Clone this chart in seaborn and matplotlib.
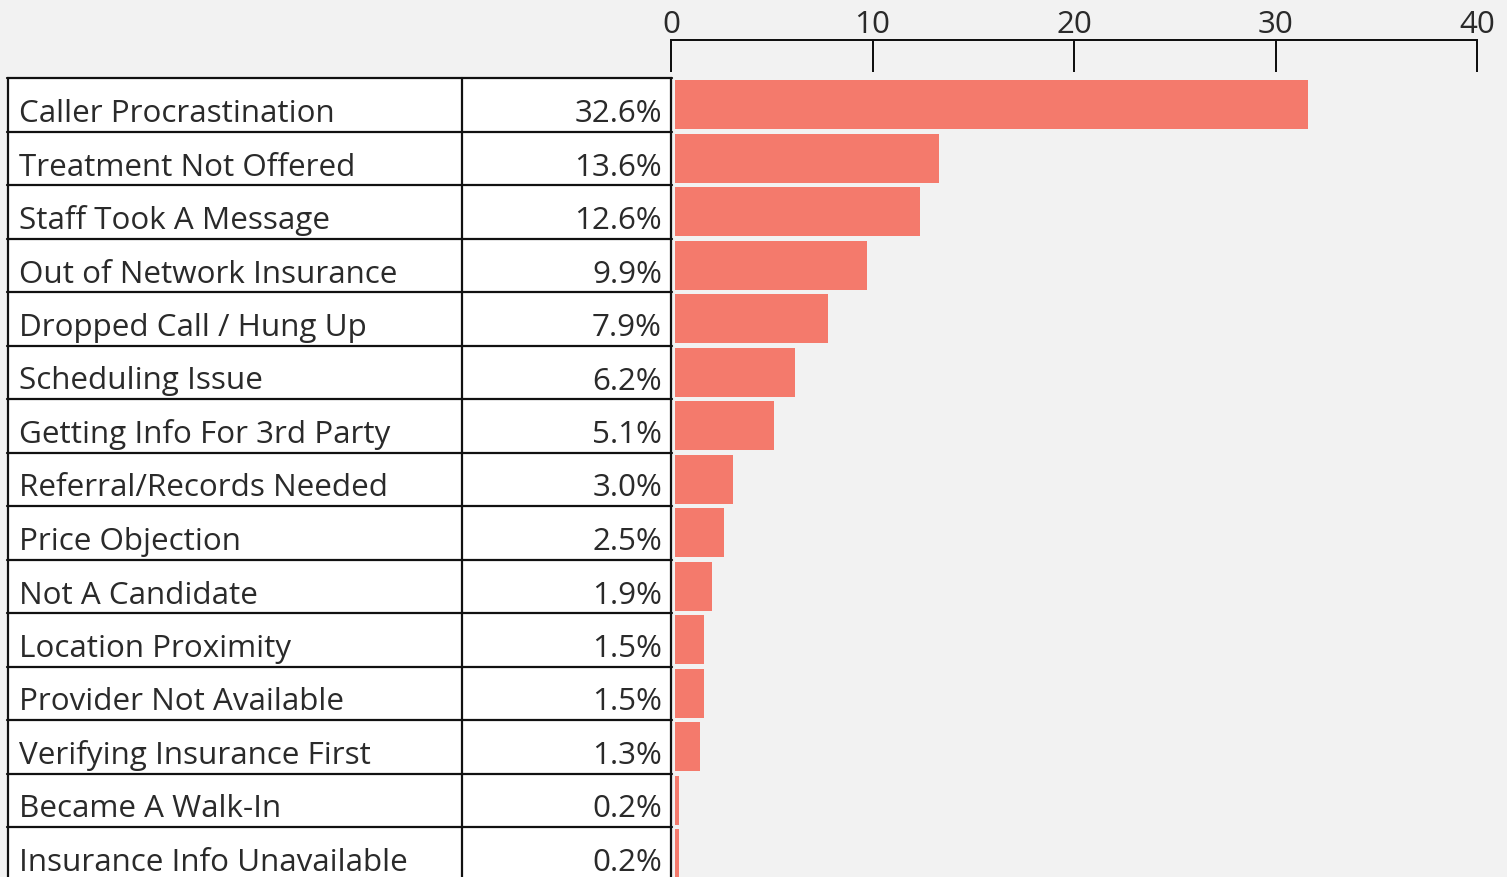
import matplotlib

matplotlib.use("Agg")
import matplotlib.pyplot as plt
import seaborn as sns

# reasons a call did not convert, share of calls (%)
reasons = [
    "Caller Procrastination",
    "Treatment Not Offered",
    "Staff Took A Message",
    "Out of Network Insurance",
    "Dropped Call / Hung Up",
    "Scheduling Issue",
    "Getting Info For 3rd Party",
    "Referral/Records Needed",
    "Price Objection",
    "Not A Candidate",
    "Location Proximity",
    "Provider Not Available",
    "Verifying Insurance First",
    "Became A Walk-In",
    "Insurance Info Unavailable",
]
share = [32.6, 13.6, 12.6, 9.9, 7.9, 6.2, 5.1, 3.0, 2.5, 1.9, 1.5, 1.5, 1.3, 0.2, 0.2]
axis_ticks = [0, 10, 20, 30, 40]

W, H = 1507, 878
BG = "#f2f2f2"
BAR = "#f47a6c"
INK = "#2a2a2a"
LINE = "#111111"
FS = 22.6

sns.set_theme(style="white")
plt.rcParams["font.family"] = ["Open Sans", "DejaVu Sans"]


def frac(x0, y0, x1, y1):
    # pixel box (top-left origin) -> figure fraction rect
    return [x0 / W, 1 - y1 / H, (x1 - x0) / W, (y1 - y0) / H]


fig = plt.figure(figsize=(W / 100, H / 100), dpi=100, facecolor=BG)

row_top, row_h = 79, 53.5
n = len(reasons)
table_bottom = row_top + n * row_h

# bars
ax_bar = fig.add_axes(frac(675, row_top, 1452, table_bottom))
ax_bar.set_facecolor("none")
sns.barplot(x=share, y=reasons, orient="h", color=BAR, width=0.91,
            saturation=1, linewidth=0, ax=ax_bar)
ax_bar.set_xlim(0, 40)
ax_bar.set_ylim(n - 0.5, -0.5)
ax_bar.set_axis_off()

# top scale
ax_tick = fig.add_axes(frac(671, 40.5, 1477, 72))
ax_tick.set_facecolor("none")
ax_tick.set_xlim(0, 40)
ax_tick.set_yticks([])
ax_tick.xaxis.tick_top()
ax_tick.set_xticks(axis_ticks)
ax_tick.set_xticklabels([str(t) for t in axis_ticks])
ax_tick.tick_params(axis="x", direction="in", length=22.7, width=1.44,
                    color=LINE, pad=0.5, labelsize=FS, labelcolor=INK)
for side in ["bottom", "left", "right"]:
    ax_tick.spines[side].set_visible(False)
ax_tick.spines["top"].set_color(LINE)
ax_tick.spines["top"].set_linewidth(1.44)

# table
x_left, x_split, x_right = 7, 462, 672
ax_tab = fig.add_axes(frac(x_left, row_top, x_right, table_bottom))
ax_tab.set_xlim(x_left, x_right)
ax_tab.set_ylim(n, 0)
ax_tab.set_facecolor("white")
ax_tab.set_xticks([])
ax_tab.set_yticks([])
for s in ax_tab.spines.values():
    s.set_visible(False)

for i in range(n + 1):
    ax_tab.axhline(i, color=LINE, lw=1.6, clip_on=False)
for xv in [x_left + 1, x_split, x_right - 1]:
    ax_tab.axvline(xv, color=LINE, lw=1.6, clip_on=False)

for i, (name, val) in enumerate(zip(reasons, share)):
    base = i + 1 - 10.5 / row_h
    ax_tab.text(19, base, name, ha="left", va="baseline", fontsize=FS, color=INK)
    ax_tab.text(662, base, f"{val:.1f}%", ha="right", va="baseline",
                fontsize=FS, color=INK)

fig.savefig("out.png", dpi=100, facecolor=BG)
plt.close(fig)
